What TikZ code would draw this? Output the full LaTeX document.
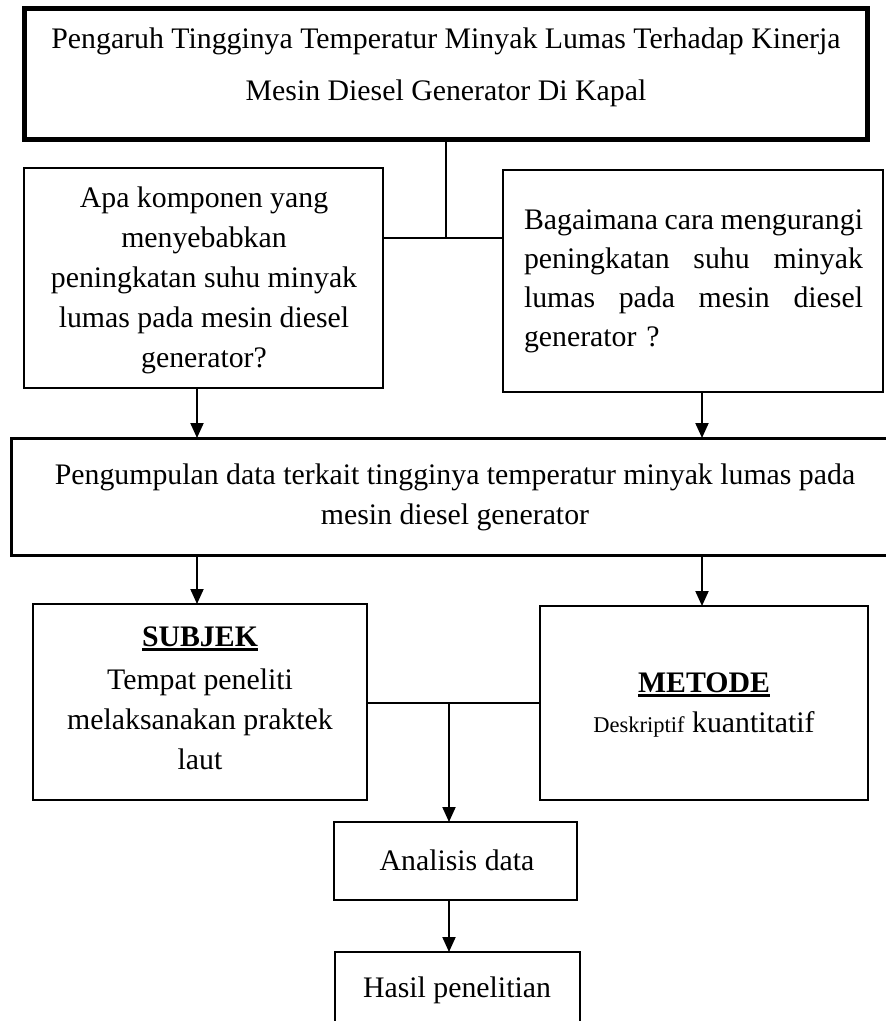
\documentclass[tikz,border=0pt]{standalone}
\usepackage{fontspec}
\setmainfont{Liberation Serif}
\usetikzlibrary{arrows.meta}
\newcommand\myul[1]{\setbox0\hbox{#1}\rlap{\rule[-4.5pt]{\wd0}{2.8pt}}\box0}
\newcommand\jline[1]{\leavevmode\hbox to 339pt{#1}}
\begin{document}
\begin{tikzpicture}[x=1pt,y=-1pt,
  box/.style={draw, line width=2.5pt, inner sep=0pt, outer sep=0pt, rectangle},
  txt/.style={inner sep=0pt, outer sep=0pt, font=\fontsize{29.8}{40}\selectfont},
  arr/.style={line width=2pt, -{Triangle[width=13pt,length=15pt]}},
  con/.style={line width=2pt}]
\useasboundingbox[fill=white] (0,0) rectangle (886,1021);

% boxes
\node[box, line width=5pt, minimum width=843pt, minimum height=131pt] (top) at (445.5,73.5) {};
\node[box, minimum width=359pt, minimum height=220pt] (lq) at (203.5,278) {};
\node[box, minimum width=380pt, minimum height=222pt] (rq) at (693,281) {};
\node[box, line width=3pt, minimum width=881pt, minimum height=117pt] (data) at (451.5,496.5) {};
\node[box, minimum width=334pt, minimum height=196pt] (subj) at (200,702) {};
\node[box, minimum width=328pt, minimum height=194pt] (met) at (704,703) {};
\node[box, minimum width=243pt, minimum height=78pt] (ana) at (455.5,861) {};
\node[box, minimum width=245pt, minimum height=108pt] (has) at (457.5,1006) {};

% texts (base anchor = baseline of the last line)
\node[txt, align=center, anchor=base, font=\fontsize{29.8}{52}\selectfont] (toptxt) at (446,100)
  {Pengaruh Tingginya Temperatur Minyak Lumas Terhadap Kinerja\\Mesin Diesel Generator Di Kapal};
\node[txt, align=center, anchor=base] (lqtxt) at (204,367)
  {Apa komponen yang\\menyebabkan\\peningkatan suhu minyak\\lumas pada mesin diesel\\generator?};
\node[txt, align=left, text width=339pt, anchor=base west, font=\fontsize{29.8}{39}\selectfont] (rqtxt) at (524,229)
  {\jline{Bagaimana\hfill cara\hfill mengurangi}\\\jline{peningkatan\hfill suhu\hfill minyak}\\\jline{lumas\hfill pada\hfill mesin\hfill diesel}\\generator ?};
\node[txt, align=center, anchor=base] (datatxt) at (455,524)
  {Pengumpulan data terkait tingginya temperatur minyak lumas pada\\mesin diesel generator};
\node[txt, align=center, anchor=base] (subjtxt) at (200,769)
  {\myul{\textbf{SUBJEK}}\\[3pt]Tempat peneliti\\melaksanakan praktek\\laut};
\node[txt, align=center, anchor=base] (mettxt) at (704,732)
  {\myul{\textbf{METODE}}\\{\fontsize{22.5}{40}\selectfont Deskriptif} kuantitatif};
\node[txt, anchor=base] (anatxt) at (457,870) {Analisis data};
\node[txt, anchor=base] (hastxt) at (457,997) {Hasil penelitian};

% connectors
\coordinate (j1) at (446,238);
\coordinate (c1) at (197,0);
\coordinate (c2) at (702,0);
\coordinate (j2) at (449,703);
\draw[con] (top.south -| j1) -- (j1);
\draw[con] (lq.east |- j1) -- (rq.west |- j1);
\draw[arr] (lq.south -| c1) -- (data.north -| c1);
\draw[arr] (rq.south -| c2) -- (data.north -| c2);
\draw[arr] (data.south -| c1) -- (subj.north -| c1);
\draw[arr] (data.south -| c2) -- (met.north -| c2);
\draw[con] (subj.east |- j2) -- (met.west |- j2);
\draw[arr] (j2) -- (ana.north -| j2);
\draw[arr] (ana.south -| j2) -- (has.north -| j2);
\end{tikzpicture}
\end{document}
